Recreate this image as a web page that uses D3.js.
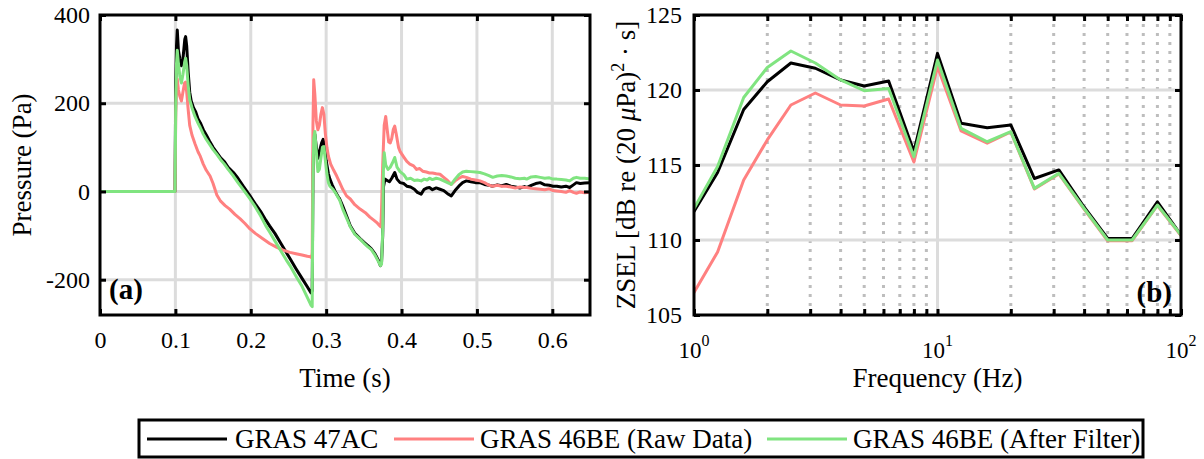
<!DOCTYPE html>
<html><head><meta charset="utf-8">
<script src="https://cdn.jsdelivr.net/npm/d3@7"></script>
<style>
body{margin:0;background:#fff;}
svg text{font-family:"Liberation Serif","Times New Roman",Times,Tinos,"DejaVu Serif",serif !important;fill:#000;}
</style></head>
<body><svg id="c" width="1204" height="459"></svg>
<script>
// ---------- DATA ----------
const seriesNames = ["GRAS 47AC", "GRAS 46BE (Raw Data)", "GRAS 46BE (After Filter)"];
const seriesColors = ["#000000", "#ff8080", "#80e480"];

const timeTicks = [0, 0.1, 0.2, 0.3, 0.4, 0.5, 0.6];
const timeTickLabels = ["0", "0.1", "0.2", "0.3", "0.4", "0.5", "0.6"];
const pressureTicks = [-200, 0, 200, 400];
const pressureTickLabels = ["-200", "0", "200", "400"];

// [time (s), pressure (Pa)]
const p47AC = [[0,0],[0.0995,0],[0.1005,250],[0.1015,330],[0.1025,366],[0.104,320],[0.106,300],[0.108,285],[0.110,300],[0.1125,345],[0.1136,351],[0.115,330],[0.117,270],[0.119,225],[0.121,205],[0.124,190],[0.127,180],[0.130,165],[0.133,156],[0.137,140],[0.141,128],[0.145,115],[0.150,100],[0.155,88],[0.160,76],[0.165,68],[0.170,55],[0.177,43],[0.183,30],[0.190,12],[0.199,-10],[0.206,-28],[0.213,-45],[0.220,-65],[0.225,-78],[0.232,-95],[0.240,-118],[0.247,-138],[0.252,-152],[0.260,-175],[0.268,-197],[0.275,-216],[0.280,-230],[0.2815,-225],[0.2825,40],[0.2835,120],[0.285,130],[0.287,100],[0.289,75],[0.291,90],[0.294,110],[0.296,118],[0.298,100],[0.300,70],[0.303,40],[0.305,28],[0.308,15],[0.312,0],[0.316,-12],[0.318,-17],[0.322,-33],[0.327,-55],[0.332,-78],[0.338,-95],[0.345,-107],[0.350,-115],[0.355,-122],[0.360,-130],[0.365,-142],[0.369,-155],[0.372,-168],[0.3735,-160],[0.375,-100],[0.376,10],[0.378,28],[0.381,25],[0.384,22],[0.387,30],[0.391,43],[0.394,28],[0.398,20],[0.403,18],[0.407,12],[0.412,10],[0.417,5],[0.421,-2],[0.426,-6],[0.430,5],[0.434,8],[0.437,9],[0.441,4],[0.446,8],[0.451,5],[0.456,2],[0.461,-5],[0.466,-10],[0.471,2],[0.476,12],[0.481,20],[0.486,24],[0.492,22],[0.498,20],[0.504,20],[0.510,16],[0.516,14],[0.521,12],[0.527,15],[0.533,13],[0.539,16],[0.545,12],[0.551,10],[0.557,8],[0.563,11],[0.566,9],[0.572,14],[0.578,18],[0.584,20],[0.590,15],[0.596,14],[0.601,12],[0.606,12],[0.612,10],[0.618,12],[0.623,9],[0.628,15],[0.632,20],[0.637,18],[0.643,19],[0.65,20]];

const p46BEraw = [[0,0],[0.0995,0],[0.1005,180],[0.1015,240],[0.1025,255],[0.104,230],[0.106,215],[0.108,205],[0.110,225],[0.112,245],[0.1136,248],[0.115,225],[0.117,185],[0.119,150],[0.122,128],[0.126,108],[0.130,90],[0.133,80],[0.137,62],[0.141,48],[0.146,35],[0.150,18],[0.155,-8],[0.160,-22],[0.166,-32],[0.172,-40],[0.179,-52],[0.186,-62],[0.192,-72],[0.199,-85],[0.206,-95],[0.216,-107],[0.225,-118],[0.234,-126],[0.243,-133],[0.252,-138],[0.260,-141],[0.268,-144],[0.275,-147],[0.279,-148],[0.2805,-150],[0.2815,-140],[0.2825,150],[0.2835,253],[0.285,220],[0.287,160],[0.289,140],[0.291,150],[0.293,175],[0.295,190],[0.297,175],[0.299,130],[0.301,100],[0.303,80],[0.306,62],[0.310,48],[0.314,35],[0.318,20],[0.322,5],[0.327,-10],[0.332,-17],[0.338,-30],[0.345,-40],[0.352,-48],[0.358,-58],[0.364,-66],[0.368,-72],[0.371,-78],[0.3725,-80],[0.3735,-40],[0.375,60],[0.377,150],[0.379,170],[0.381,140],[0.383,112],[0.385,110],[0.387,120],[0.389,140],[0.391,148],[0.393,130],[0.396,100],[0.398,91],[0.403,78],[0.407,68],[0.411,62],[0.416,58],[0.420,50],[0.424,52],[0.428,46],[0.433,44],[0.437,42],[0.441,42],[0.446,40],[0.451,39],[0.456,32],[0.461,25],[0.466,16],[0.471,24],[0.476,30],[0.481,34],[0.486,32],[0.492,28],[0.498,26],[0.504,24],[0.510,20],[0.516,14],[0.521,12],[0.527,14],[0.533,12],[0.539,12],[0.545,10],[0.551,8],[0.557,10],[0.563,9],[0.566,9],[0.572,7],[0.578,6],[0.584,5],[0.590,4],[0.596,6],[0.601,2],[0.606,1],[0.612,0],[0.618,-2],[0.623,2],[0.628,-2],[0.632,-4],[0.637,-1],[0.643,-3],[0.65,-2]];

const p46BEfilt = [[0,0],[0.0995,0],[0.1005,200],[0.1015,290],[0.1025,320],[0.104,290],[0.106,260],[0.108,246],[0.110,265],[0.1125,295],[0.1136,302],[0.115,285],[0.117,240],[0.119,208],[0.122,190],[0.126,170],[0.130,155],[0.133,145],[0.137,130],[0.141,118],[0.145,108],[0.150,95],[0.155,84],[0.160,72],[0.165,62],[0.170,50],[0.177,35],[0.183,20],[0.190,4],[0.199,-17],[0.206,-35],[0.213,-55],[0.220,-78],[0.225,-92],[0.232,-112],[0.240,-135],[0.247,-155],[0.252,-168],[0.260,-192],[0.268,-215],[0.275,-240],[0.280,-258],[0.2815,-261],[0.2825,20],[0.2835,120],[0.285,136],[0.287,90],[0.289,45],[0.291,50],[0.293,75],[0.295,100],[0.297,102],[0.299,70],[0.301,40],[0.303,20],[0.305,12],[0.309,5],[0.313,-5],[0.318,-20],[0.322,-40],[0.327,-60],[0.332,-80],[0.338,-97],[0.345,-108],[0.350,-117],[0.355,-125],[0.360,-132],[0.365,-145],[0.369,-158],[0.372,-168],[0.3735,-165],[0.375,-90],[0.376,50],[0.377,88],[0.379,60],[0.382,50],[0.385,55],[0.388,65],[0.391,77],[0.394,55],[0.398,45],[0.403,38],[0.407,28],[0.412,30],[0.417,25],[0.421,26],[0.426,24],[0.430,28],[0.434,26],[0.437,30],[0.441,27],[0.446,30],[0.451,28],[0.456,24],[0.461,20],[0.466,16],[0.471,28],[0.476,38],[0.481,44],[0.486,46],[0.492,45],[0.498,44],[0.504,43],[0.510,40],[0.516,36],[0.521,32],[0.527,35],[0.533,36],[0.539,35],[0.545,33],[0.551,30],[0.557,29],[0.563,30],[0.566,28],[0.572,33],[0.578,34],[0.584,32],[0.590,30],[0.596,31],[0.601,28],[0.606,28],[0.612,27],[0.618,26],[0.623,24],[0.628,30],[0.632,32],[0.637,30],[0.643,30],[0.65,28]];

const freqs = [1, 1.25, 1.6, 2, 2.5, 3.15, 4, 5, 6.3, 8, 10, 12.5, 16, 20, 25, 31.5, 40, 50, 63, 80, 100];
const zsel47AC    = [111.9, 114.5, 118.7, 120.55, 121.8, 121.45, 120.67, 120.27, 120.6, 115.9, 122.44, 117.78, 117.49, 117.67, 114.1, 114.67, 112.2, 110.1, 110.1, 112.55, 110.33];
const zsel46BEraw = [106.5, 109.2, 114.0, 116.67, 119.0, 119.8, 119.0, 118.93, 119.4, 115.2, 121.55, 117.27, 116.45, 117.2, 113.4, 114.4, 112.05, 109.95, 109.95, 112.3, 110.3];
const zsel46BEfilt= [112.1, 114.9, 119.5, 121.5, 122.6, 121.8, 120.67, 119.95, 120.1, 115.55, 122.0, 117.44, 116.55, 117.22, 113.44, 114.44, 112.1, 110.0, 110.0, 112.33, 110.33];
const zselTicks = [105, 110, 115, 120, 125];
const freqMajorTicks = [1, 10, 100];
const freqMajorExp = ["0", "1", "2"];
const freqMinorTicks = [2,3,4,5,6,7,8,9,20,30,40,50,60,70,80,90];

// ---------- DRAW ----------
const svg = d3.select("#c");
const FS = 24;   // tick labels
const TS = 27;   // axis titles / legend

function frame(g, x0, y0, w, h) {
  g.append("rect").attr("x", x0).attr("y", y0).attr("width", w).attr("height", h)
    .attr("fill", "none").attr("stroke", "#000").attr("stroke-width", 3);
}

// ----- Panel (a) -----
const A = {x0: 100, y0: 15, w: 490, h: 300};
const xa = d3.scaleLinear().domain([0, 0.65]).range([A.x0, A.x0 + A.w]);
const ya = d3.scaleLinear().domain([-280, 400]).range([A.y0 + A.h, A.y0]);
const ga = svg.append("g");
svg.append("clipPath").attr("id", "clipA").append("rect")
  .attr("x", A.x0).attr("y", A.y0).attr("width", A.w).attr("height", A.h);

ga.selectAll(".gx").data(timeTicks.slice(1)).join("line")
  .attr("x1", d => xa(d)).attr("x2", d => xa(d)).attr("y1", A.y0).attr("y2", A.y0 + A.h)
  .attr("stroke", "#dcdcdc").attr("stroke-width", 3);
ga.selectAll(".gy").data(pressureTicks.filter(d => d < 400)).join("line")
  .attr("x1", A.x0).attr("x2", A.x0 + A.w).attr("y1", d => ya(d)).attr("y2", d => ya(d))
  .attr("stroke", "#dcdcdc").attr("stroke-width", 3);

const lineA = d3.line().x(d => xa(d[0])).y(d => ya(d[1]));
const la = ga.append("g").attr("clip-path", "url(#clipA)");
[p47AC, p46BEraw, p46BEfilt].forEach((s, i) => {
  la.append("path").attr("d", lineA(s)).attr("fill", "none")
    .attr("stroke", seriesColors[i]).attr("stroke-width", 3)
    .attr("stroke-linejoin", "round").attr("stroke-linecap", "round");
});

const axBa = d3.axisBottom(xa).tickValues(timeTicks).tickFormat((d, i) => timeTickLabels[i]).tickSize(-6).tickPadding(16);
const gxa = ga.append("g").attr("transform", `translate(0,${A.y0 + A.h})`).call(axBa);
const axTa = d3.axisTop(xa).tickValues(timeTicks).tickFormat("").tickSize(-6);
const gxta = ga.append("g").attr("transform", `translate(0,${A.y0})`).call(axTa);
const axLa = d3.axisLeft(ya).tickValues(pressureTicks).tickFormat((d, i) => pressureTickLabels[i]).tickSize(-6).tickPadding(10);
const gyla = ga.append("g").attr("transform", `translate(${A.x0},0)`).call(axLa);
const axRa = d3.axisRight(ya).tickValues(pressureTicks).tickFormat("").tickSize(-6);
const gyra = ga.append("g").attr("transform", `translate(${A.x0 + A.w},0)`).call(axRa);
[gxa, gxta, gyla, gyra].forEach(g => {
  g.attr("font-family", null);
  g.select(".domain").remove();
  g.selectAll(".tick line").attr("stroke", "#000").attr("stroke-width", 3);
  g.selectAll(".tick text").attr("font-size", FS).attr("fill", "#000");
});
frame(ga, A.x0, A.y0, A.w, A.h);

ga.append("text").attr("x", xa(0.325)).attr("y", 387).attr("text-anchor", "middle")
  .attr("font-size", TS).text("Time (s)");
ga.append("text").attr("transform", `translate(31,${A.y0 + A.h / 2}) rotate(-90)`)
  .attr("text-anchor", "middle").attr("font-size", TS).text("Pressure (Pa)");
ga.append("text").attr("x", 109).attr("y", 299).attr("font-size", 29).attr("font-weight", "bold").text("(a)");

// ----- Panel (b) -----
const B = {x0: 694, y0: 15, w: 487, h: 300};
const xb = d3.scaleLog().domain([1, 100]).range([B.x0, B.x0 + B.w]);
const yb = d3.scaleLinear().domain([105, 125]).range([B.y0 + B.h, B.y0]);
const gb = svg.append("g");
svg.append("clipPath").attr("id", "clipB").append("rect")
  .attr("x", B.x0).attr("y", B.y0).attr("width", B.w).attr("height", B.h);

gb.selectAll(".gmin").data(freqMinorTicks).join("line")
  .attr("x1", d => xb(d)).attr("x2", d => xb(d)).attr("y1", B.y0).attr("y2", B.y0 + B.h)
  .attr("stroke", "#bdbdbd").attr("stroke-width", 3).attr("stroke-dasharray", "3,6");
gb.selectAll(".gmaj").data([10]).join("line")
  .attr("x1", d => xb(d)).attr("x2", d => xb(d)).attr("y1", B.y0).attr("y2", B.y0 + B.h)
  .attr("stroke", "#dcdcdc").attr("stroke-width", 3);
gb.selectAll(".gyb").data(zselTicks.slice(1, -1)).join("line")
  .attr("x1", B.x0).attr("x2", B.x0 + B.w).attr("y1", d => yb(d)).attr("y2", d => yb(d))
  .attr("stroke", "#dcdcdc").attr("stroke-width", 3);

const lineB = d3.line().x(d => xb(d[0])).y(d => yb(d[1]));
const lb = gb.append("g").attr("clip-path", "url(#clipB)");
[zsel47AC, zsel46BEraw, zsel46BEfilt].forEach((s, i) => {
  lb.append("path").attr("d", lineB(freqs.map((f, j) => [f, s[j]]))).attr("fill", "none")
    .attr("stroke", seriesColors[i]).attr("stroke-width", 3)
    .attr("stroke-linejoin", "round").attr("stroke-linecap", "round");
});

const allFreqTicks = freqMajorTicks.concat(freqMinorTicks);
const axBb = d3.axisBottom(xb).tickValues(allFreqTicks).tickFormat("").tickSize(-6);
const gxb = gb.append("g").attr("transform", `translate(0,${B.y0 + B.h})`).call(axBb);
const axTb = d3.axisTop(xb).tickValues(allFreqTicks).tickFormat("").tickSize(-6);
const gxtb = gb.append("g").attr("transform", `translate(0,${B.y0})`).call(axTb);
const axLb = d3.axisLeft(yb).tickValues(zselTicks).tickFormat(d3.format("d")).tickSize(-6).tickPadding(12);
const gylb = gb.append("g").attr("transform", `translate(${B.x0},0)`).call(axLb);
const axRb = d3.axisRight(yb).tickValues(zselTicks).tickFormat("").tickSize(-6);
const gyrb = gb.append("g").attr("transform", `translate(${B.x0 + B.w},0)`).call(axRb);
[gxb, gxtb, gylb, gyrb].forEach(g => {
  g.attr("font-family", null);
  g.select(".domain").remove();
  g.selectAll(".tick line").attr("stroke", "#000").attr("stroke-width", 3);
  g.selectAll(".tick text").attr("font-size", FS).attr("fill", "#000");
});
freqMajorTicks.forEach((f, i) => {
  const t = gb.append("text").attr("x", xb(f)).attr("y", 358).attr("text-anchor", "middle").attr("font-size", 23);
  t.append("tspan").text("10");
  t.append("tspan").attr("dy", -12).attr("font-size", 16).text(freqMajorExp[i]);
});
frame(gb, B.x0, B.y0, B.w, B.h);

gb.append("text").attr("x", B.x0 + B.w / 2).attr("y", 387).attr("text-anchor", "middle")
  .attr("font-size", TS).text("Frequency (Hz)");
const yl = gb.append("text").attr("transform", `translate(635,${B.y0 + B.h / 2}) rotate(-90)`)
  .attr("text-anchor", "middle").attr("font-size", TS);
yl.append("tspan").text("ZSEL [dB re (20 ");
yl.append("tspan").attr("font-style", "italic").text("μ");
yl.append("tspan").text("Pa)");
yl.append("tspan").attr("dy", -11).attr("font-size", 18).text("2");
yl.append("tspan").attr("dy", 11).text(" · s]");
gb.append("text").attr("x", 1172).attr("y", 302).attr("text-anchor", "end").attr("font-size", 29).attr("font-weight", "bold").text("(b)");

// ----- Legend -----
const lg = svg.append("g");
lg.append("rect").attr("x", 139).attr("y", 420).attr("width", 1004).attr("height", 37)
  .attr("fill", "#fff").attr("stroke", "#000").attr("stroke-width", 3);
const legLineX = [147, 394, 767];
const legTextX = [235, 480, 853];
seriesNames.forEach((n, i) => {
  lg.append("line").attr("x1", legLineX[i]).attr("x2", legLineX[i] + 80).attr("y1", 439).attr("y2", 439)
    .attr("stroke", seriesColors[i]).attr("stroke-width", 3);
  lg.append("text").attr("x", legTextX[i]).attr("y", 448).attr("font-size", TS).text(n);
});
</script></body></html>
